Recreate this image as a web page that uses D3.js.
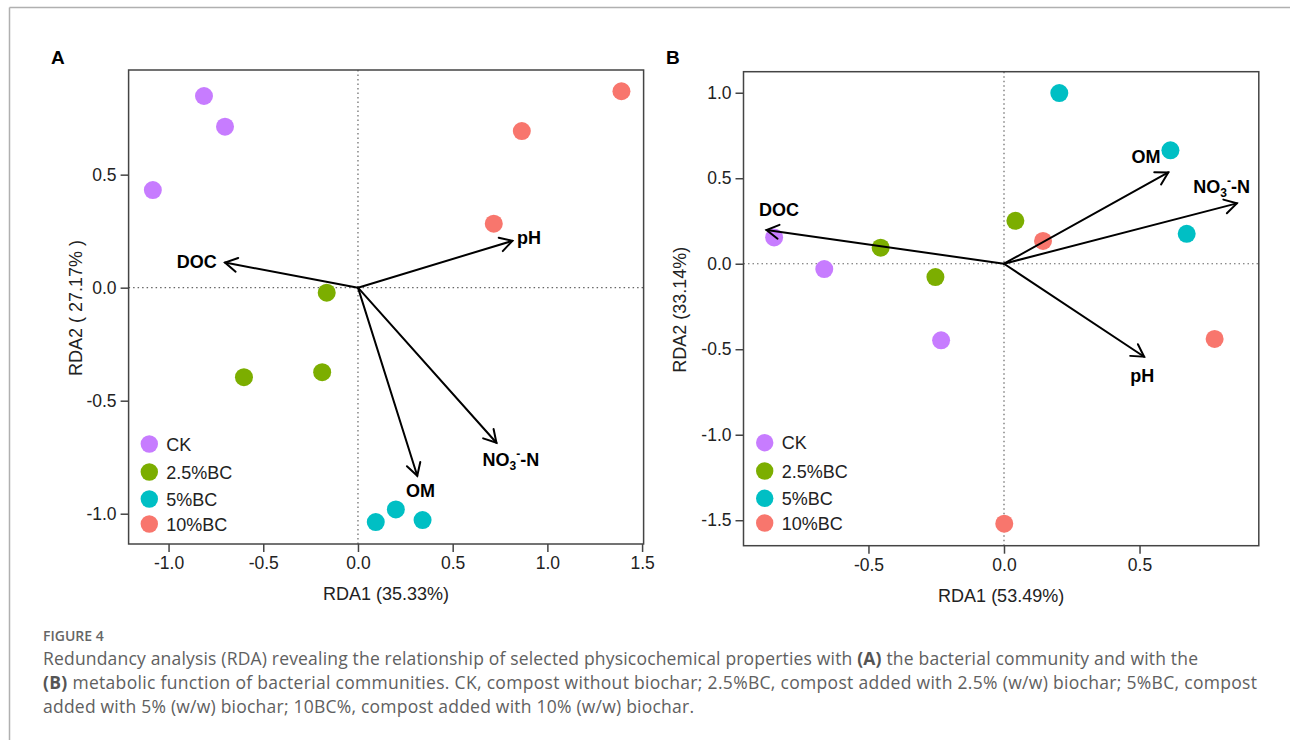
<!DOCTYPE html>
<html>
<head>
<meta charset="utf-8">
<script src="https://cdn.jsdelivr.net/npm/d3@7/dist/d3.min.js"></script>
<style>
  html, body { margin: 0; padding: 0; background: #fff; }
  svg { display: block; font-family: "Liberation Sans", Arial, sans-serif; }
</style>
</head>
<body>
<div id="chart"></div>
<script>
// treatment groups
const groups = ["CK", "2.5%BC", "5%BC", "10%BC"];
const groupColors = ["#C77CFF", "#7CAE00", "#00BFC4", "#F8766D"];

// panel A - sample scores
const sampleGroupA = ["CK", "CK", "CK", "2.5%BC", "2.5%BC", "2.5%BC", "5%BC", "5%BC", "5%BC", "10%BC", "10%BC", "10%BC"];
const sampleRda1A = [-0.813, -0.702, -1.083, -0.165, -0.602, -0.189, 0.094, 0.200, 0.341, 1.391, 0.865, 0.717];
const sampleRda2A = [0.848, 0.712, 0.432, -0.022, -0.396, -0.374, -1.037, -0.981, -1.028, 0.869, 0.693, 0.283];

// panel A - environmental arrows
const envVars = ["DOC", "pH", "OM", "NO3-N"];
const arrowRda1A = [-0.702, 0.815, 0.313, 0.731];
const arrowRda2A = [0.111, 0.207, -0.832, -0.686];
const labelRda1A = [-0.851, 0.903, 0.330, 0.807];
const labelRda2A = [0.115, 0.224, -0.898, -0.759];

// panel B - sample scores
const sampleGroupB = ["CK", "CK", "CK", "2.5%BC", "2.5%BC", "2.5%BC", "5%BC", "5%BC", "5%BC", "10%BC", "10%BC", "10%BC"];
const sampleRda1B = [-0.848, -0.663, -0.232, -0.455, -0.253, 0.042, 0.204, 0.614, 0.674, 0.144, 0.777, 0.001];
const sampleRda2B = [0.154, -0.031, -0.448, 0.094, -0.078, 0.251, 0.998, 0.663, 0.175, 0.133, -0.440, -1.520];

// panel B - environmental arrows
const envVarsB = ["DOC", "pH", "OM", "NO3-N"];
const arrowRda1B = [-0.876, 0.517, 0.606, 0.859];
const arrowRda2B = [0.197, -0.544, 0.534, 0.353];
const labelRda1B = [-0.830, 0.510, 0.524, 0.803];
const labelRda2B = [0.320, -0.651, 0.626, 0.454];

// ticks
const ticksXA = [-1.0, -0.5, 0.0, 0.5, 1.0, 1.5];
const ticksYA = [-1.0, -0.5, 0.0, 0.5];
const ticksXB = [-0.5, 0.0, 0.5];
const ticksYB = [-1.5, -1.0, -0.5, 0.0, 0.5, 1.0];

const width = 1290;
const height = 740;

const svg = d3.select("#chart")
  .append("svg")
  .attr("width", width)
  .attr("height", height)
  .attr("viewBox", [0, 0, width, height]);

// page border (top + left)
svg.append("line").attr("x1", 9.5).attr("x2", width).attr("y1", 7.5).attr("y2", 7.5)
  .attr("stroke", "#b0b0b0").attr("stroke-width", 1.5);
svg.append("line").attr("x1", 9.5).attr("x2", 9.5).attr("y1", 7.5).attr("y2", height)
  .attr("stroke", "#b0b0b0").attr("stroke-width", 1.5);

const color = d3.scaleOrdinal().domain(groups).range(groupColors);
const fmt = (d) => d.toFixed(1);

const drawPanel = (cfg) => {
  const x = d3.scaleLinear().domain(cfg.xDomain).range([cfg.left, cfg.right]);
  const y = d3.scaleLinear().domain(cfg.yDomain).range([cfg.bottom, cfg.top]);
  const g = svg.append("g");

  // panel letter
  g.append("text")
    .attr("x", cfg.letterX).attr("y", 64)
    .attr("font-size", 19).attr("font-weight", "bold")
    .text(cfg.letter);

  // zero reference lines
  g.append("line")
    .attr("x1", x(0)).attr("x2", x(0)).attr("y1", cfg.top).attr("y2", cfg.bottom)
    .attr("stroke", "#666").attr("stroke-width", 1.2).attr("stroke-dasharray", "1.5,3");
  g.append("line")
    .attr("x1", cfg.left).attr("x2", cfg.right).attr("y1", y(0)).attr("y2", y(0))
    .attr("stroke", "#666").attr("stroke-width", 1.2).attr("stroke-dasharray", "1.5,3");

  // axes
  const xAxis = g.append("g")
    .attr("transform", `translate(0,${cfg.bottom})`)
    .call(d3.axisBottom(x).tickValues(cfg.ticksX).tickFormat(fmt).tickSize(8).tickPadding(5));
  const yAxis = g.append("g")
    .attr("transform", `translate(${cfg.left},0)`)
    .call(d3.axisLeft(y).tickValues(cfg.ticksY).tickFormat(fmt).tickSize(8).tickPadding(4));
  [xAxis, yAxis].forEach((a) => {
    a.select(".domain").remove();
    a.selectAll("line").attr("stroke", "#444").attr("stroke-width", 1.5);
    a.selectAll("text").attr("font-size", 17.5).attr("fill", "#222")
      .attr("font-family", "'Liberation Sans', Arial, sans-serif");
  });

  // frame
  g.append("rect")
    .attr("x", cfg.left).attr("y", cfg.top)
    .attr("width", cfg.right - cfg.left).attr("height", cfg.bottom - cfg.top)
    .attr("fill", "none").attr("stroke", "#444").attr("stroke-width", 1.5);

  // axis titles
  g.append("text")
    .attr("x", (cfg.left + cfg.right) / 2).attr("y", cfg.bottom + 56)
    .attr("text-anchor", "middle").attr("font-size", 18).attr("fill", "#222")
    .text(cfg.xTitle);
  g.append("text")
    .attr("transform", `translate(${cfg.yTitleX},${(cfg.top + cfg.bottom) / 2 + 1}) rotate(-90)`)
    .attr("text-anchor", "middle").attr("font-size", 18).attr("fill", "#222")
    .text(cfg.yTitle);

  // samples
  const samples = cfg.rda1.map((v, i) => ({ x: v, y: cfg.rda2[i], group: cfg.group[i] }));
  g.append("g")
    .selectAll("circle")
    .data(samples)
    .join("circle")
    .attr("cx", (d) => x(d.x))
    .attr("cy", (d) => y(d.y))
    .attr("r", 9)
    .attr("fill", (d) => color(d.group));

  // arrows
  const arrows = cfg.vars.map((name, i) => ({
    name, x: cfg.ax[i], y: cfg.ay[i], lx: cfg.lx[i], ly: cfg.ly[i],
  }));
  const head = 14;
  const spread = Math.PI / 6;
  const ag = g.append("g").attr("stroke", "#000").attr("stroke-width", 2).attr("fill", "none")
    .attr("stroke-linecap", "round");
  ag.selectAll("line.shaft")
    .data(arrows)
    .join("line")
    .attr("class", "shaft")
    .attr("x1", x(0)).attr("y1", y(0))
    .attr("x2", (d) => x(d.x)).attr("y2", (d) => y(d.y));
  ag.selectAll("path.head")
    .data(arrows)
    .join("path")
    .attr("class", "head")
    .attr("d", (d) => {
      const tx = x(d.x), ty = y(d.y);
      const ang = Math.atan2(ty - y(0), tx - x(0));
      const p1 = [tx - head * Math.cos(ang - spread), ty - head * Math.sin(ang - spread)];
      const p2 = [tx - head * Math.cos(ang + spread), ty - head * Math.sin(ang + spread)];
      return `M${p1[0]},${p1[1]}L${tx},${ty}L${p2[0]},${p2[1]}`;
    });

  // arrow labels
  const lt = g.append("g")
    .selectAll("text")
    .data(arrows)
    .join("text")
    .attr("x", (d) => x(d.lx))
    .attr("y", (d) => y(d.ly) + 6.5)
    .attr("text-anchor", "middle")
    .attr("font-size", 18)
    .attr("font-weight", "bold");
  lt.each(function (d) {
    const t = d3.select(this);
    if (d.name === "NO3-N") {
      t.append("tspan").text("NO");
      t.append("tspan").attr("font-size", 12).attr("dy", 4).text("3");
      t.append("tspan").attr("font-size", 12).attr("dy", -12).text("-");
      t.append("tspan").attr("dy", 8).text("-N");
    } else {
      t.text(d.name);
    }
  });

  // legend
  const leg = g.append("g")
    .selectAll("g")
    .data(groups)
    .join("g")
    .attr("transform", (d, i) => `translate(${cfg.legendX},${cfg.legendY[i]})`);
  leg.append("circle").attr("r", 8.7).attr("fill", (d) => color(d));
  leg.append("text")
    .attr("x", 17).attr("y", 6.5)
    .attr("font-size", 18).attr("fill", "#222")
    .text((d) => d);
};

drawPanel({
  letter: "A", letterX: 51,
  left: 128.6, right: 643.6, top: 70, bottom: 544,
  xDomain: [-1.211, 1.508], yDomain: [-1.134, 0.963],
  ticksX: ticksXA, ticksY: ticksYA,
  xTitle: "RDA1 (35.33%)", yTitle: "RDA2 ( 27.17% )", yTitleX: 82,
  rda1: sampleRda1A, rda2: sampleRda2A, group: sampleGroupA,
  vars: envVars, ax: arrowRda1A, ay: arrowRda2A, lx: labelRda1A, ly: labelRda2A,
  legendX: 149.3, legendY: [444, 472, 499, 524],
});

drawPanel({
  letter: "B", letterX: 666,
  left: 743.5, right: 1258.8, top: 71.7, bottom: 545.7,
  xDomain: [-0.961, 0.940], yDomain: [-1.649, 1.123],
  ticksX: ticksXB, ticksY: ticksYB,
  xTitle: "RDA1 (53.49%)", yTitle: "RDA2 (33.14%)", yTitleX: 686,
  rda1: sampleRda1B, rda2: sampleRda2B, group: sampleGroupB,
  vars: envVarsB, ax: arrowRda1B, ay: arrowRda2B, lx: labelRda1B, ly: labelRda2B,
  legendX: 764.7, legendY: [442.7, 471, 498.3, 523],
});

// caption
const cap = svg.append("g").attr("font-family", "'Open Sans', 'Noto Sans', sans-serif").attr("fill", "#606060");
cap.append("text").attr("x", 43).attr("y", 641)
  .attr("font-size", 14).attr("font-weight", 600).attr("fill", "#666")
  .text("FIGURE 4");

const captionLines = [
  [["Redundancy analysis (RDA) revealing the relationship of selected physicochemical properties with ", false], ["(A)", true], [" the bacterial community and with the", false]],
  [["(B)", true], [" metabolic function of bacterial communities. CK, compost without biochar; 2.5%BC, compost added with 2.5% (w/w) biochar; 5%BC, compost", false]],
  [["added with 5% (w/w) biochar; 10BC%, compost added with 10% (w/w) biochar.", false]],
];
const captionWidths = [1155, 1214, 651];
captionLines.forEach((parts, i) => {
  const t = cap.append("text").attr("x", 43).attr("y", 665 + i * 24).attr("font-size", 17.5);
  parts.forEach(([s, b]) => {
    t.append("tspan").attr("font-weight", b ? "bold" : null).attr("fill", b ? "#555" : null).text(s);
  });
  t.attr("textLength", captionWidths[i]).attr("lengthAdjust", "spacing");
});
</script>
</body>
</html>
